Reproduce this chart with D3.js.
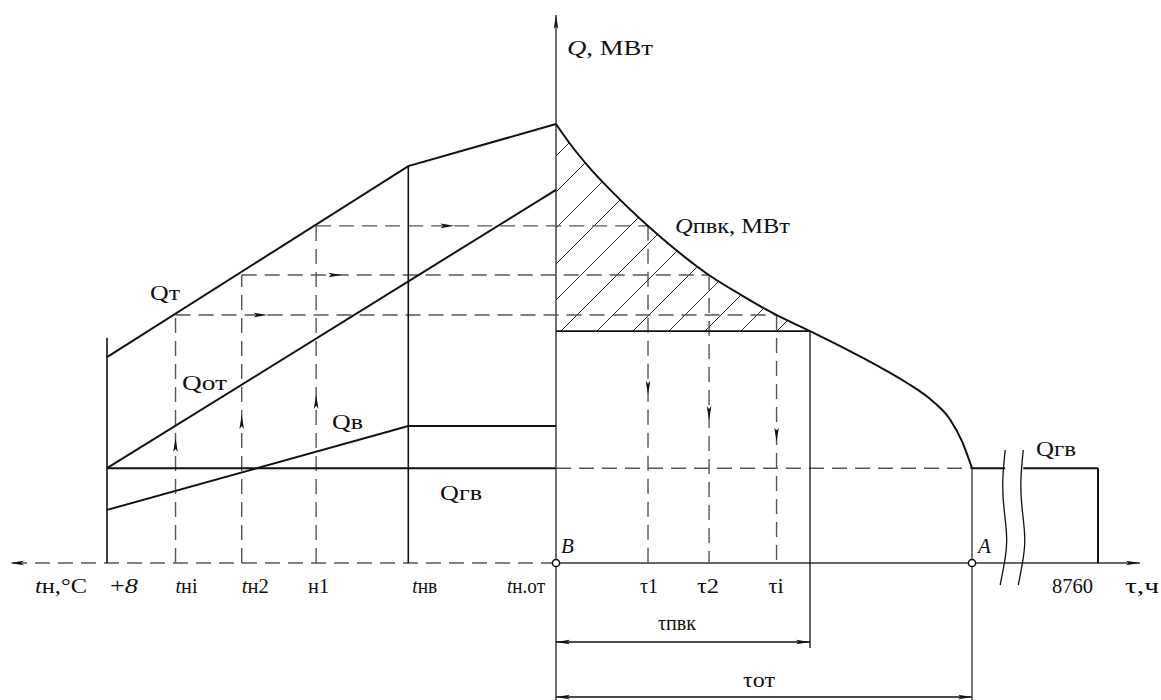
<!DOCTYPE html>
<html>
<head>
<meta charset="utf-8">
<script src="https://cdn.jsdelivr.net/npm/d3@7"></script>
<style>
  body { margin: 0; background: #fff; }
  svg { display: block; }
</style>
</head>
<body>
<svg id="chart" width="1161" height="700"></svg>
<script>
// ---- Outdoor temperatures (°C) on the left half of the graph ----
const tempTicks  = [8, 2.2, -3.4, -9.7, -17.5, -30];
const tempLabels = ["+8", "tнi", "tн2", "н1", "tнв", "tн.от"];

// ---- Heat loads (MW) versus outdoor temperature ----
const qTotalT  = [8, -17.5, -30];
const qTotal   = [46.9, 90.4, 100];     // Qт
const qHeatT   = [8, -30];
const qHeat    = [21.6, 85];            // Qот
const qVentT   = [8, -17.5, -30];
const qVent    = [12.1, 31.2, 31.2];    // Qв
const qHotWater = 21.6;                 // Qгв
const qLeftWallTop = 51.3;

// ---- Construction levels that transfer loads to the duration curve ----
const levelTemps = [2.2, -3.4, -9.7];   // tнi, tн2, н1
const levelLoads = [56.5, 65.6, 76.8];
const levelTaus  = [2651, 1840, 1106];  // τi, τ2, τ1
const tauLabels  = ["τi", "τ2", "τ1"];

// ---- Annual heat load duration curve (hours, MW) ----
const tauCurve = [0, 168, 409, 673, 1010, 1334, 1815, 2212, 2608, 3053, 3498, 3894, 4219, 4531, 4736, 4880, 5000];
const qCurve   = [100, 95.5, 89.9, 84.6, 78.4, 73.0, 65.9, 61.2, 56.9, 52.8, 48.6, 44.6, 41.0, 36.8, 32.7, 27.7, 21.6];
const qPeakBase = 52.8;   // peak boiler (ПВК) switch-on level
const tauPeak   = 3053;   // τпвк
const tauHeat   = 5000;   // τот
const tauYear   = 8760;
const tauBreak  = [5990, 6530];

// ---- Arrow positions along the construction lines ----
const arrowRightT = [-5.6, -11.9, -21.4];
const arrowUpQ    = [28.5, 33.7, 38.3];
const arrowDownQ  = [27.6, 32.6, 38.3];

// ---- Scales ----
const xT   = d3.scaleLinear().domain([8, -30]).range([107, 556]);
const xTau = d3.scaleLinear().domain([0, tauHeat, tauYear]).range([556, 972, 1098]);
const y    = d3.scaleLinear().domain([0, 100]).range([563, 124]);

const svg = d3.select("#chart");
const ink = "#111", axisInk = "#333", dashInk = "#555";
const dash = "15,8";
const serif = "'Liberation Serif', 'Times New Roman', serif";

function seg(x1, y1, x2, y2, stroke, width, dasharray) {
  svg.append("line").attr("x1", x1).attr("y1", y1).attr("x2", x2).attr("y2", y2)
    .attr("stroke", stroke).attr("stroke-width", width)
    .attr("stroke-dasharray", dasharray || null);
}
// thin filled arrowhead with its tip at (x, y), rotated by angle (degrees, 0 = pointing right)
function arrow(x, y0, angle, len = 14, half = 2.3) {
  svg.append("path")
    .attr("d", `M0,0L${-len},${-half}L${-len + 3},0L${-len},${half}Z`)
    .attr("transform", `translate(${x},${y0}) rotate(${angle})`)
    .attr("fill", ink);
}

const curve = d3.line().x(d => xTau(d[0])).y(d => y(d[1])).curve(d3.curveMonotoneX);
const curvePts = tauCurve.map((t, i) => [t, qCurve[i]]);

// ---- Hatched peak-boiler area under the duration curve ----
const peakPts = curvePts.filter(d => d[0] <= tauPeak);
svg.append("clipPath").attr("id", "peakClip")
  .append("path")
  .attr("d", curve(peakPts) + `L${xTau(0)},${y(qPeakBase)}Z`);
const hatch = svg.append("g").attr("clip-path", "url(#peakClip)");
for (let c = xTau(0) + y(100) - 40; c < xTau(tauPeak) + y(qPeakBase) + 40; c += 36) {
  hatch.append("line").attr("x1", c - 700).attr("y1", 700).attr("x2", c).attr("y2", 0)
    .attr("stroke", ink).attr("stroke-width", 0.9);
}

// ---- Axes ----
seg(xTau(0), 700, xTau(0), 15, axisInk, 1.4);
arrow(xTau(0), 15, -90);
seg(xTau(0), y(0), 1140, y(0), axisInk, 1.4);
arrow(1140, y(0), 0);
seg(xTau(0), y(0), 12, y(0), dashInk, 1.4, dash);
arrow(10, y(0), 180);

// ---- Construction (dashed) lines ----
levelTemps.forEach((t, i) => {
  const yl = y(levelLoads[i]);
  seg(xT(t), yl, xTau(levelTaus[i]), yl, dashInk, 1.4, dash);
  seg(xT(t), y(0), xT(t), yl, dashInk, 1.4, dash);
  seg(xTau(levelTaus[i]), yl, xTau(levelTaus[i]), y(0), dashInk, 1.4, dash);
  arrow(xT(arrowRightT[i]), yl, 0);
  arrow(xT(t), y(arrowUpQ[i]), -90);
  arrow(xTau(levelTaus[i]), y(arrowDownQ[i]), 90);
});
// hot water load continued across the heating season
seg(xTau(0), y(qHotWater), xTau(tauHeat), y(qHotWater), dashInk, 1.4, dash);

// ---- Load lines ----
const lineT = d3.line().x(d => xT(d[0])).y(d => y(d[1]));
function loadPath(ts, qs) {
  svg.append("path").attr("d", lineT(ts.map((t, i) => [t, qs[i]])))
    .attr("fill", "none").attr("stroke", ink).attr("stroke-width", 2);
}
loadPath(qTotalT, qTotal);
loadPath(qHeatT, qHeat);
loadPath(qVentT, qVent);
loadPath([8, -30], [qHotWater, qHotWater]);
// boundary verticals at +8 and tнв
seg(xT(8), y(0), xT(8), y(qLeftWallTop), ink, 1.6);
seg(xT(-17.5), y(0), xT(-17.5), y(qTotal[1]), ink, 1.6);

// ---- Duration curve ----
svg.append("path").attr("d", curve(curvePts))
  .attr("fill", "none").attr("stroke", ink).attr("stroke-width", 2);
seg(xTau(0), y(qPeakBase), xTau(tauPeak), y(qPeakBase), ink, 1.8);
seg(xTau(tauPeak), y(qPeakBase), xTau(tauPeak), 648, ink, 1.3);
seg(xTau(tauHeat), y(qHotWater), xTau(tauHeat), 700, axisInk, 1.3);

// summer hot-water load with the axis break
seg(xTau(tauHeat), y(qHotWater), xTau(tauBreak[0]), y(qHotWater), ink, 2);
seg(xTau(tauBreak[1]), y(qHotWater), xTau(tauYear), y(qHotWater), ink, 2);
seg(xTau(tauYear), y(qHotWater), xTau(tauYear), y(0), ink, 2);
const wave = d3.line().curve(d3.curveBasis);
tauBreak.forEach(t => {
  const bx = xTau(t);
  svg.append("path")
    .attr("d", wave([[bx, 450], [bx - 3, 480], [bx - 2, 505], [bx + 3, 540], [bx - 1, 565], [bx - 5, 585]]))
    .attr("fill", "none").attr("stroke", ink).attr("stroke-width", 1.3);
});

// points B and A
[0, tauHeat].forEach(t => {
  svg.append("circle").attr("cx", xTau(t)).attr("cy", y(0)).attr("r", 3.6)
    .attr("fill", "#fff").attr("stroke", ink).attr("stroke-width", 1.5);
});

// ---- Dimension lines τпвк and τот ----
function dimension(t1, t2, yy) {
  seg(xTau(t1), yy, xTau(t2), yy, ink, 1.3);
  arrow(xTau(t1), yy, 180);
  arrow(xTau(t2), yy, 0);
}
dimension(0, tauPeak, 642);
dimension(0, tauHeat, 697);

// ---- Text (wide drafting serif, stretched to its set width) ----
function label(x, yy, parts, size, width) {
  const t = svg.append("text").attr("x", x).attr("y", yy)
    .style("font-family", serif).style("font-size", size + "px").style("fill", "#111");
  parts.forEach(p => {
    t.append("tspan").text(p[0]).style("font-style", p[1] ? "italic" : "normal");
  });
  if (width) t.attr("textLength", width).attr("lengthAdjust", "spacingAndGlyphs");
  return t;
}
label(567, 55, [["Q", 1], [", МВт", 0]], 20, 86);
label(675, 233, [["Q", 1], ["пвк, МВт", 0]], 20, 115);
label(150, 300, [["Qт", 0]], 22, 30);
label(182, 390, [["Qот", 0]], 22, 45);
label(332, 429, [["Qв", 0]], 22, 31);
label(440, 500, [["Qгв", 0]], 22, 42);
label(1036, 456, [["Qгв", 0]], 22, 40);
label(561, 553, [["B", 1]], 21);
label(978, 553, [["A", 1]], 21);

// temperature axis labels: [offset from tick, set width]
const tempLabelFit = [[3, 28], [0, 22], [0, 27], [-8, 21], [4, 25], [-49, 38]];
tempTicks.forEach((t, i) => {
  const txt = tempLabels[i];
  const parts = txt.startsWith("t") ? [["t", 1], [txt.slice(1), 0]]
              : txt === "+8" ? [["+", 0], ["8", 1]] : [[txt, 0]];
  label(xT(t) + tempLabelFit[i][0], 593, parts, 20, tempLabelFit[i][1]);
});
label(35, 593, [["t", 1], ["н,°C", 0]], 20, 52);

// time axis labels
const tauLabelFit = [[-8, 15], [-12, 22], [-8, 18]];
levelTaus.forEach((t, i) => label(xTau(t) + tauLabelFit[i][0], 593, [[tauLabels[i], 0]], 20, tauLabelFit[i][1]));
label(xTau(tauYear) - 46, 593, [["8760", 0]], 20, 41);
label(1125, 593, [["τ,ч", 0]], 20, 34);
label(658, 630, [["τпвк", 0]], 20, 38);
label(743, 687, [["τот", 0]], 20, 32);
</script>
</body>
</html>
